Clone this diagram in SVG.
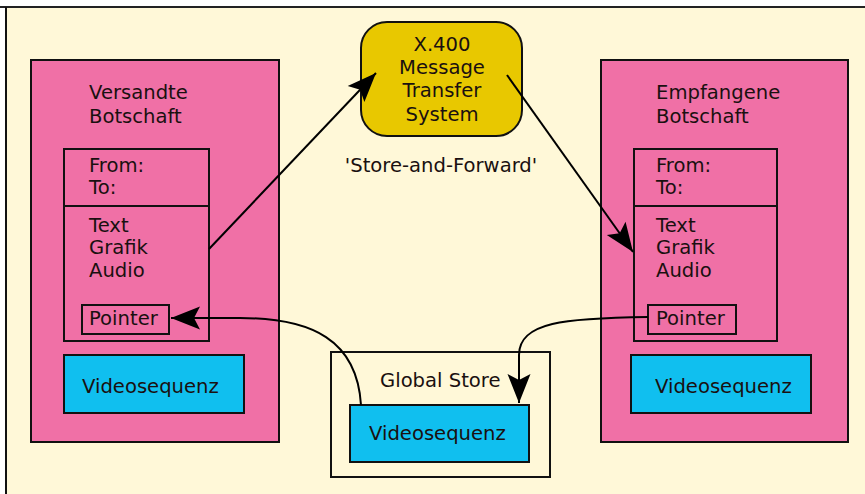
<svg xmlns="http://www.w3.org/2000/svg" width="865" height="494" viewBox="0 0 865 494">
  <style>
    text { font-family: "DejaVu Sans", "Liberation Sans", sans-serif; font-size: 19.6px; fill: #1a1010; }
    .msg { fill: #F070A6; stroke: #111; stroke-width: 2; }
    .box { fill: none; stroke: #111; stroke-width: 2; }
    .video { fill: #10BFEF; stroke: #111; stroke-width: 2; }
    .mts { fill: #E8C800; stroke: #111; stroke-width: 2; }
    .link { fill: none; stroke: #000; stroke-width: 2; }
    .mid { text-anchor: middle; }
  </style>
  <defs>
    <marker id="head" markerUnits="userSpaceOnUse" viewBox="-31 -13 33 26" refX="0" refY="0" markerWidth="33" markerHeight="26" orient="auto">
      <path d="M0,0 L-29,-11.5 L-23,0 L-29,11.5 Z" fill="#000"/>
    </marker>
  </defs>

  <!-- page background -->
  <rect x="0" y="0" width="865" height="494" fill="#ffffff"/>
  <rect x="6" y="7" width="865" height="494" fill="#FFF8D8"/>
  <line x1="0" y1="7" x2="865" y2="7" stroke="#222" stroke-width="2"/>
  <line x1="6" y1="7" x2="6" y2="494" stroke="#111" stroke-width="2"/>

  <!-- sent message -->
  <g id="sent-message">
    <rect class="msg" x="31" y="60" width="248" height="382"/>
    <text x="89" y="99">Versandte</text>
    <text x="89" y="123">Botschaft</text>
    <rect class="box" x="64" y="149" width="145" height="192"/>
    <line class="box" x1="64" y1="206" x2="209" y2="206"/>
    <text x="89" y="172">From:</text>
    <text x="89" y="194">To:</text>
    <text x="89" y="232">Text</text>
    <text x="89" y="254">Grafik</text>
    <text x="89" y="277">Audio</text>
  </g>
  <g id="sent-pointer">
    <rect class="box" x="82" y="305" width="87" height="29"/>
    <text x="89" y="325">Pointer</text>
  </g>
  <g id="sent-video">
    <rect class="video" x="64" y="355" width="180" height="58"/>
    <text x="82" y="393">Videosequenz</text>
  </g>

  <!-- message transfer system -->
  <g id="mts">
    <rect class="mts" x="361" y="22" width="161" height="114" rx="26" ry="26"/>
    <text class="mid" x="442" y="51">X.400</text>
    <text class="mid" x="442" y="74">Message</text>
    <text class="mid" x="442" y="97">Transfer</text>
    <text class="mid" x="442" y="121">System</text>
  </g>
  <g id="store-forward-label">
    <text class="mid" x="441" y="172">'Store-and-Forward'</text>
  </g>

  <!-- received message -->
  <g id="received-message">
    <rect class="msg" x="601" y="60" width="247" height="382"/>
    <text x="656" y="99">Empfangene</text>
    <text x="656" y="123">Botschaft</text>
    <rect class="box" x="634" y="149" width="143" height="192"/>
    <line class="box" x1="634" y1="206" x2="777" y2="206"/>
    <text x="656" y="172">From:</text>
    <text x="656" y="194">To:</text>
    <text x="656" y="232">Text</text>
    <text x="656" y="254">Grafik</text>
    <text x="656" y="277">Audio</text>
  </g>
  <g id="received-pointer">
    <rect class="box" x="648" y="305" width="88" height="29"/>
    <text x="656" y="325">Pointer</text>
  </g>
  <g id="received-video">
    <rect class="video" x="631" y="355" width="180" height="58"/>
    <text x="655" y="393">Videosequenz</text>
  </g>

  <!-- global store -->
  <g id="global-store">
    <rect class="box" x="331" y="352" width="219" height="125"/>
    <text x="380" y="387">Global Store</text>
  </g>
  <g id="global-video">
    <rect class="video" x="350" y="405" width="179" height="57"/>
    <text x="369" y="440">Videosequenz</text>
  </g>

  <!-- connectors -->
  <g id="connectors">
    <path class="link" d="M209,249 L376,73" marker-end="url(#head)"/>
    <path class="link" d="M507,75 L633,252" marker-end="url(#head)"/>
    <path class="link" d="M361,405 C357,340 312,318 240,318 L171,318" marker-end="url(#head)"/>
    <path class="link" d="M648,317 C565,318 519,322 519,355 L519,403" marker-end="url(#head)"/>
  </g>
</svg>
